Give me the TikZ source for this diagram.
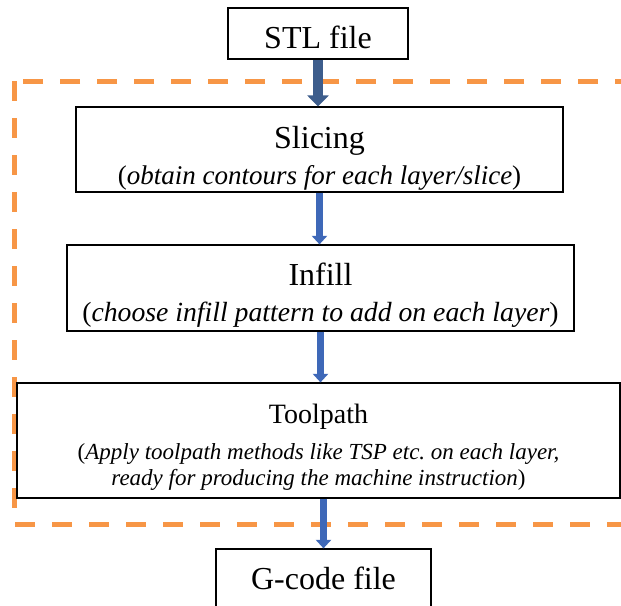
\documentclass[tikz,border=0pt]{standalone}
\usepackage{fontspec}
\setmainfont{Liberation Serif}
\usetikzlibrary{arrows.meta}
\definecolor{dashorange}{RGB}{247,150,70}
\definecolor{arrowblue}{RGB}{62,104,184}
\definecolor{arrowdark}{RGB}{61,93,140}
\newcommand{\stagefont}{\fontsize{16pt}{18pt}\selectfont}
\newcommand{\notefont}[2]{\fontsize{#1}{#2}\selectfont}

\begin{document}
\begin{tikzpicture}[x=0.5pt, y=-0.5pt,
    stagebox/.style={draw, line width=0.6pt, inner sep=0pt, align=flush center, font=\stagefont},
    flow/.style={arrowblue, line width=3.75pt, -{Triangle[width=7.5pt, length=4.25pt]}}]
  \useasboundingbox (0,0) rectangle (621,605);
  \clip (0,0) rectangle (621,605);
  \draw[dashorange, line width=2.5pt, dash pattern=on 10pt off 8.5pt] (14,81) rectangle (640,524);
  \node[stagebox, text width=90pt, text height=20pt, text depth=5.5pt] (stl) at (318,33.5) {STL file};
  \node[stagebox, text width=243.5pt, text height=20.5pt, text depth=22pt] (slicing) at (319.5,149.5)
    {Slicing\\\notefont{13.5pt}{16.5pt}(\textit{obtain contours for each layer/slice})};
  \node[stagebox, text width=253.5pt, text height=20pt, text depth=23pt] (infill) at (320.5,288)
    {Infill\\\notefont{13.85pt}{17.5pt}(\textit{choose infill pattern to add on each layer})};
  \node[stagebox, text width=301.5pt, text height=20pt, text depth=37.5pt] (toolpath) at (318.5,440.5)
    {\fontsize{14pt}{18pt}\selectfont Toolpath\\[5.5pt]\notefont{11.5pt}{12.5pt}(\textit{Apply toolpath methods like TSP etc.\ on each layer,}\\[-5pt]
     \textit{ready for producing the machine instruction})};
  \node[stagebox, text width=107.5pt, text height=20pt, text depth=15.5pt] (gcode) at (323.5,584.5) {G-code file};
  \draw[flow, arrowdark, line width=5pt, -{Triangle[width=10.5pt, length=5.5pt]}] (stl) -- (stl |- slicing.north);
  \draw[flow] (slicing) -- (slicing |- infill.north);
  \draw[flow] (infill) -- (infill |- toolpath.north);
  \draw[flow] (toolpath.south -| gcode) -- (gcode);
\end{tikzpicture}
\end{document}
